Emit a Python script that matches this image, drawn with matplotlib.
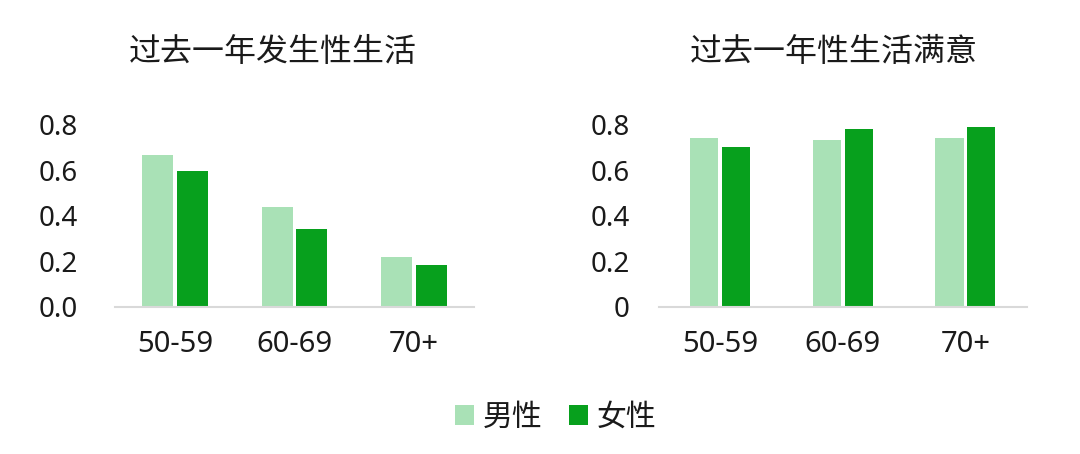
import matplotlib
matplotlib.use("Agg")
import matplotlib.pyplot as plt
import numpy as np
from matplotlib.patches import Patch

plt.rcParams['font.family'] = ['Noto Sans', 'Noto Sans CJK SC', 'DejaVu Sans']

categories = ["50-59", "60-69", "70+"]
left_title = "过去一年发生性生活"
right_title = "过去一年性生活满意"
series_names = ["男性", "女性"]
left_male = [0.67, 0.44, 0.22]
left_female = [0.597, 0.34, 0.183]
right_male = [0.744, 0.732, 0.741]
right_female = [0.701, 0.781, 0.79]
left_yticks = [0.0, 0.2, 0.4, 0.6, 0.8]
left_yticklabels = ["0.0", "0.2", "0.4", "0.6", "0.8"]
right_yticks = [0.0, 0.2, 0.4, 0.6, 0.8]
right_yticklabels = ["0", "0.2", "0.4", "0.6", "0.8"]

c_male = "#A9E1B6"
c_female = "#07A01D"
txt = "#1a1a1a"

fig = plt.figure(figsize=(10.8, 4.54), dpi=100)
axL = fig.add_axes([0.1065, 0.3245, 0.3324, 0.4002])
axR = fig.add_axes([0.6102, 0.3245, 0.3404, 0.4002])

def draw(ax, male, female, title, yt, ytl, w, off, ypad, title_x):
    x = np.arange(len(categories))
    ax.bar(x - off, male, width=w, color=c_male, zorder=2)
    ax.bar(x + off, female, width=w, color=c_female, zorder=2)
    ax.set_xlim(-0.5, len(categories) - 0.5)
    ax.set_ylim(0, 0.8)
    ax.set_yticks(yt)
    ax.set_yticklabels(ytl)
    ax.set_xticks(x)
    ax.set_xticklabels(categories)
    for s in ["top", "right", "left"]:
        ax.spines[s].set_visible(False)
    ax.spines["bottom"].set_color("#D9D9D9")
    ax.spines["bottom"].set_linewidth(1.5)
    ax.spines["bottom"].set_zorder(3)
    ax.tick_params(axis="both", length=0, colors=txt)
    ax.tick_params(axis="y", pad=ypad, labelsize=20)
    ax.tick_params(axis="x", pad=17, labelsize=21)
    fig.text(title_x, 1 - 53 / 454, title, ha="center", va="center",
             fontsize=23, color=txt)

draw(axL, left_male, left_female, left_title, left_yticks, left_yticklabels,
     0.26, 0.145, 27, 273 / 1080)
draw(axR, right_male, right_female, right_title, right_yticks, right_yticklabels,
     0.23, 0.13, 21, 834 / 1080)

handles = [Patch(facecolor=c_male, label=series_names[0]),
           Patch(facecolor=c_female, label=series_names[1])]
fig.legend(handles=handles, loc="center", bbox_to_anchor=(556 / 1080, 1 - 418 / 454),
           ncol=2, frameon=False, fontsize=21.5, handlelength=0.62, handleheight=0.62,
           handletextpad=0.3, columnspacing=0.9, labelcolor=txt)

fig.savefig("out.png", dpi=100, facecolor="white")
